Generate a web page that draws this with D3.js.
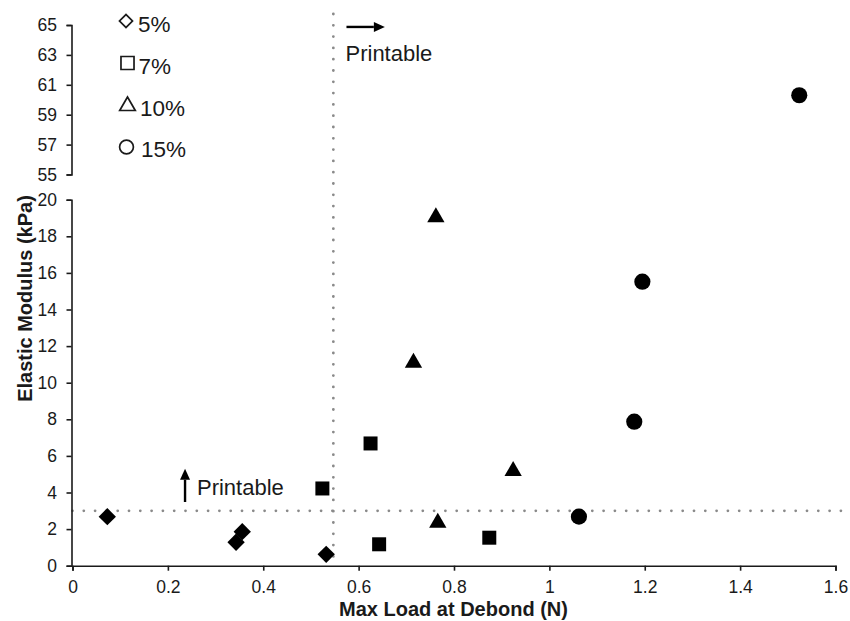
<!DOCTYPE html>
<html>
<head>
    <title>Elastic Modulus vs Max Load</title>
    <script src="https://cdn.jsdelivr.net/npm/d3@7"></script>
    <style>
        body { margin: 0; background: #fff; }
        text { font-family: "Liberation Sans", Arial, sans-serif; fill: #1a1a1a; }
    </style>
</head>
<body>
<svg id="chart" width="850" height="621"></svg>
<script>
    // data
    const groups = ["5%", "7%", "10%", "15%"];
    const load5 = [0.073, 0.343, 0.356, 0.532];
    const mod5 = [2.68, 1.28, 1.86, 0.62];
    const load7 = [0.524, 0.625, 0.643, 0.874];
    const mod7 = [4.22, 6.68, 1.17, 1.53];
    const load10 = [0.762, 0.715, 0.924, 0.766];
    const mod10 = [19.04, 11.09, 5.17, 2.35];
    const load15 = [1.062, 1.178, 1.195, 1.524];
    const mod15 = [2.68, 7.87, 15.52, 60.3];
    const xTicks = [0, 0.2, 0.4, 0.6, 0.8, 1, 1.2, 1.4, 1.6];
    const yTicksLow = [0, 2, 4, 6, 8, 10, 12, 14, 16, 18, 20];
    const yTicksHigh = [55, 57, 59, 61, 63, 65];
    const printableLoad = 0.547;
    const printableModulus = 3;

    const svg = d3.select("#chart");

    const x = d3.scaleLinear().domain([0, 1.6]).range([72.5, 835.5]);
    const yLow = d3.scaleLinear().domain([0, 20]).range([565.7, 199.7]);
    const yHigh = d3.scaleLinear().domain([55, 65]).range([174.5, 25]);
    const yPos = v => v > 20 ? yHigh(v) : yLow(v);

    // dotted threshold lines
    const dotted = g => g.attr("stroke", "#8a8a8a").attr("stroke-width", 2.8)
        .attr("stroke-linecap", "round").attr("stroke-dasharray", "0,11.3");
    svg.append("line")
        .attr("x1", x(printableLoad)).attr("x2", x(printableLoad))
        .attr("y1", 14).attr("y2", yLow(0) - 3)
        .call(dotted);
    svg.append("line")
        .attr("x1", x(0)).attr("x2", 843)
        .attr("y1", yLow(printableModulus)).attr("y2", yLow(printableModulus))
        .call(dotted);

    // axes
    function styleAxis(g) {
        g.select(".domain").attr("stroke", "#1a1a1a").attr("stroke-width", 1.6);
        g.selectAll(".tick line").attr("stroke", "#1a1a1a").attr("stroke-width", 1.6);
        g.selectAll(".tick text").attr("font-size", "17.5px").attr("fill", "#1a1a1a")
            .attr("font-family", "Liberation Sans, Arial, sans-serif");
    }

    svg.append("g")
        .attr("transform", `translate(0,${yLow(0)})`)
        .call(d3.axisBottom(x).tickValues(xTicks).tickFormat(d3.format("")).tickSize(5).tickPadding(10))
        .call(styleAxis);

    svg.append("g")
        .attr("transform", "translate(71.5,0)")
        .call(d3.axisLeft(yLow).tickValues(yTicksLow).tickSize(5).tickPadding(9.5))
        .call(styleAxis);

    svg.append("g")
        .attr("transform", "translate(71.5,0)")
        .call(d3.axisLeft(yHigh).tickValues(yTicksHigh).tickSize(5).tickPadding(9.5))
        .call(styleAxis);

    svg.append("text")
        .attr("x", 453.5).attr("y", 616)
        .attr("text-anchor", "middle")
        .attr("font-size", "20px").attr("font-weight", "bold")
        .text("Max Load at Debond (N)");

    svg.append("text")
        .attr("transform", "translate(31.5,298.5) rotate(-90)")
        .attr("text-anchor", "middle")
        .attr("font-size", "20px").attr("font-weight", "bold")
        .text("Elastic Modulus (kPa)");

    // markers
    const shapes = [
        {sym: d3.symbolSquare, size: 150, rot: 45, legendSize: 85},
        {sym: d3.symbolSquare, size: 196, rot: 0, legendSize: 170},
        {sym: d3.symbolTriangle, size: 130, rot: 0, legendSize: 105},
        {sym: d3.symbolCircle, size: 205, rot: 0, legendSize: 150}
    ];
    const series = [
        {load: load5, mod: mod5},
        {load: load7, mod: mod7},
        {load: load10, mod: mod10},
        {load: load15, mod: mod15}
    ];

    series.forEach((s, i) => {
        const sh = shapes[i];
        const pts = s.load.map((l, j) => ({load: l, mod: s.mod[j]}));
        svg.append("g").selectAll("path")
            .data(pts)
            .enter().append("path")
            .attr("d", d3.symbol().type(sh.sym).size(sh.size))
            .attr("transform", d => `translate(${x(d.load)},${yPos(d.mod)}) rotate(${sh.rot})`)
            .attr("fill", "#000");
    });

    // legend (open symbols)
    const legend = svg.append("g").attr("class", "legend");
    const legendSym = [[126, 21], [127.5, 63], [127.5, 106], [126.5, 147]];
    const legendText = [[138, 32], [138.5, 73.5], [140, 115.5], [141, 156.5]];
    groups.forEach((g, i) => {
        const sh = shapes[i];
        legend.append("path")
            .attr("d", d3.symbol().type(sh.sym).size(sh.legendSize))
            .attr("transform", `translate(${legendSym[i][0]},${legendSym[i][1]}) rotate(${sh.rot})`)
            .attr("fill", "none").attr("stroke", "#1a1a1a").attr("stroke-width", 1.7);
        legend.append("text")
            .attr("x", legendText[i][0]).attr("y", legendText[i][1])
            .attr("font-size", "22.5px")
            .text(g);
    });

    // printable annotations
    function arrow(x1, y1, x2, y2) {
        const ang = Math.atan2(y2 - y1, x2 - x1);
        const head = 11, half = 5;
        const bx = x2 - head * Math.cos(ang), by = y2 - head * Math.sin(ang);
        svg.append("line")
            .attr("x1", x1).attr("y1", y1).attr("x2", bx).attr("y2", by)
            .attr("stroke", "#000").attr("stroke-width", 2.4);
        svg.append("path")
            .attr("d", `M${x2},${y2}L${bx - half * Math.sin(ang)},${by + half * Math.cos(ang)}L${bx + half * Math.sin(ang)},${by - half * Math.cos(ang)}Z`)
            .attr("fill", "#000");
    }
    arrow(x(0.5745), yHigh(64.87), x(0.655), yHigh(64.87));
    svg.append("text")
        .attr("x", x(0.5725)).attr("y", yHigh(62.56))
        .attr("font-size", "22px").text("Printable");

    arrow(x(0.236), yLow(3.48), x(0.236), yLow(5.3));
    svg.append("text")
        .attr("x", x(0.261)).attr("y", yLow(3.86))
        .attr("font-size", "22px").text("Printable");
</script>
</body>
</html>
